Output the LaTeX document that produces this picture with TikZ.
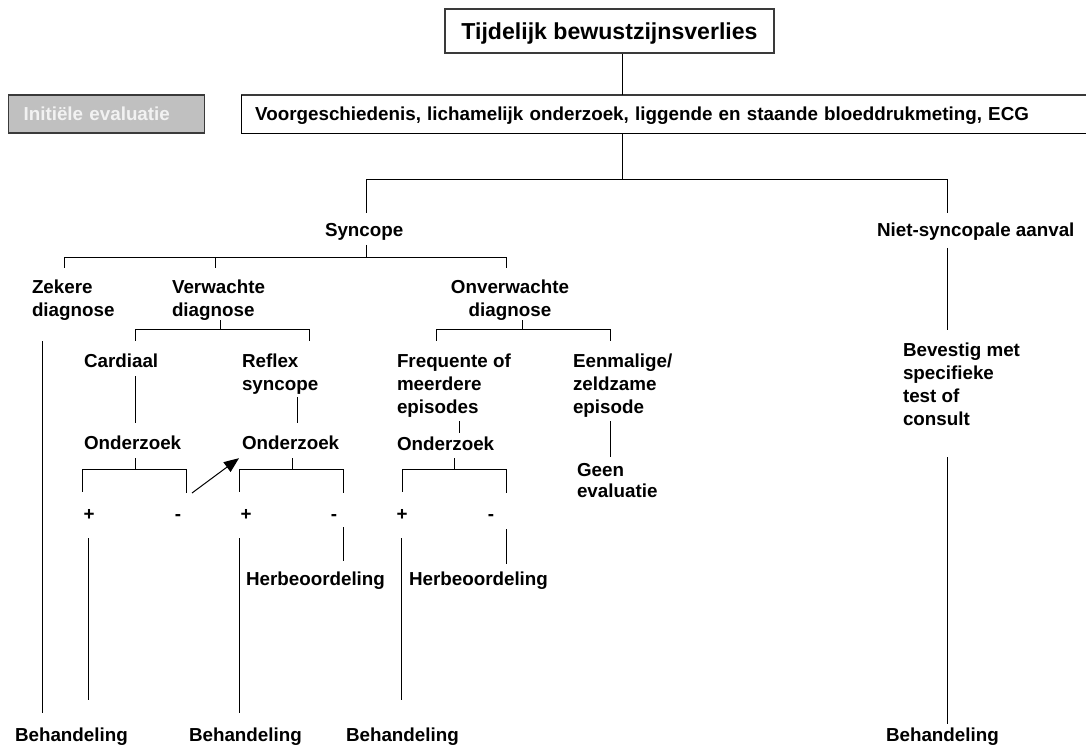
\documentclass[tikz,border=0pt]{standalone}
\usepackage{fontspec}
\setmainfont{Liberation Sans}
\usetikzlibrary{arrows.meta,calc}
\definecolor{boxgray}{HTML}{C0C0C0}
\definecolor{lighttext}{HTML}{F2F2F2}
\definecolor{edgegray}{HTML}{3A3A3A}
\begin{document}
\begin{tikzpicture}[x=1pt,y=-1pt,
  ln/.style={line width=1pt, black},
  lbl/.style={font=\bfseries\fontsize{18.8}{23}\selectfont, inner sep=0pt, outer sep=0pt, anchor=base west},
  lblm/.style={font=\bfseries\fontsize{18.8}{23}\selectfont, inner sep=0pt, outer sep=0pt, align=left, anchor=north west},
  titlebox/.style={draw=edgegray, line width=1.3pt, font=\bfseries\fontsize{23.1}{27}\selectfont,
    minimum width=329pt, minimum height=44pt, inner sep=0pt, text height=16.5pt, text depth=0pt},
  graybox/.style={fill=boxgray, draw=edgegray, line width=1.2pt, text=lighttext,
    font=\bfseries\fontsize{18.8}{23}\selectfont, minimum height=38pt, text width=166pt,
    inner xsep=15pt, inner ysep=0pt, align=left, text height=13.5pt, text depth=0pt, anchor=west},
  plainbox/.style={font=\bfseries\fontsize{18.8}{23}\selectfont, minimum height=38pt, text width=817pt,
    inner xsep=14pt, inner ysep=0pt, align=left, text height=13.5pt, text depth=0pt, anchor=west},
  toplinestyle/.style={line width=1.8pt, edgegray},
  arr/.style={ln, -{Triangle[length=15pt,width=12pt]}}
]
\useasboundingbox (0,0) rectangle (1086,744);

% ---------- nodes ----------
\node[titlebox] (title) at (609.5,31) {Tijdelijk bewustzijnsverlies};
\node[graybox] (init) at (8,114) {Initiële evaluatie};
\node[plainbox] (box2) at (241,114) {Voorgeschiedenis, lichamelijk onderzoek, liggende en staande bloeddrukmeting, ECG};

\node[lbl] (syncope) at (325,236) {Syncope};
\node[lbl] (niet) at (877,236) {Niet-syncopale aanval};

\node[lblm] (zekere) at (32,279.5) {Zekere\\diagnose};
\node[lblm] (verw) at (172,279.5) {Verwachte\\diagnose};
\node[lblm, align=center, anchor=north] (onverw) at (510,279.5) {Onverwachte\\diagnose};

\node[lbl] (cardiaal) at (84,367) {Cardiaal};
\node[lblm] (reflex) at (242,353.5) {Reflex\\syncope};
\node[lblm] (freq) at (397,353.5) {Frequente of\\meerdere\\episodes};
\node[lblm] (eenm) at (573,353.5) {Eenmalige/\\zeldzame\\episode};
\node[lblm] (bevestig) at (903,342.5) {Bevestig met\\specifieke\\test of\\consult};

\node[lbl] (ond1) at (84,449) {Onderzoek};
\node[lbl] (ond2) at (242,449) {Onderzoek};
\node[lbl] (ond3) at (397,450) {Onderzoek};
\node[lblm] (geen) at (577,463.5) {Geen\\[-2pt]evaluatie};

\node[lbl, anchor=base] (plus1) at (89,520) {+};
\node[lbl, anchor=base] (minus1) at (178,520) {-};
\node[lbl, anchor=base] (plus2) at (246,520) {+};
\node[lbl, anchor=base] (minus2) at (334,520) {-};
\node[lbl, anchor=base] (plus3) at (402,520) {+};
\node[lbl, anchor=base] (minus3) at (491,520) {-};

\node[lbl] (herb1) at (246,585) {Herbeoordeling};
\node[lbl] (herb2) at (409,585) {Herbeoordeling};

\node[lbl] (beh1) at (15,741) {Behandeling};
\node[lbl] (beh2) at (189,741) {Behandeling};
\node[lbl] (beh3) at (346,741) {Behandeling};
\node[lbl] (beh4) at (886,741) {Behandeling};

% ---------- box 2 border (open to the right edge) ----------
\draw[toplinestyle] (box2.north west) -- (box2.north east);
\draw[ln] (box2.north west) -- (box2.south west) -- (box2.south east);

% ---------- junction coordinates ----------
\coordinate (m) at (622,179);
\coordinate (mS) at (366,179);
\coordinate (mN) at (947,179);
\coordinate (s) at (366,257);
\coordinate (sZ) at (64,257);
\coordinate (sV) at (215,257);
\coordinate (sO) at (506,257);
\coordinate (v) at (220,329);
\coordinate (vC) at (135,329);
\coordinate (vR) at (309,329);
\coordinate (u) at (522,329);
\coordinate (uF) at (436,329);
\coordinate (uE) at (610,329);
\coordinate (xR) at (297,0);
\coordinate (xF) at (459,0);
\coordinate (o1) at (135,469);
\coordinate (o1L) at (82,469);
\coordinate (o1R) at (186,469);
\coordinate (o2) at (292,469);
\coordinate (o2L) at (239,469);
\coordinate (o2R) at (343,469);
\coordinate (o3) at (454,469);
\coordinate (o3L) at (402,469);
\coordinate (o3R) at (506,469);
\coordinate (xZ) at (42,0);
\coordinate (xP1) at (88,0);
\coordinate (xP3) at (401,0);
\coordinate (arrS) at (192,493);

% ---------- connectors ----------
\draw[ln] (title.south -| m) -- (box2.north -| m);
\draw[ln] (box2.south -| m) -- (m);
\draw[ln] (mS) -- (mN);
\draw[ln, shorten >=9.5pt] (mS) -- (syncope.north -| mS);
\draw[ln, shorten >=9.5pt] (mN) -- (niet.north -| mN);

% syncope branch
\draw[ln, shorten <=5pt] (syncope.south -| s) -- (s);
\draw[ln] (sZ) -- (sO);
\draw[ln, shorten >=11.5pt] (sZ) -- (zekere.north -| sZ);
\draw[ln, shorten >=11.5pt] (sV) -- (verw.north -| sV);
\draw[ln, shorten >=11.5pt] (sO) -- (onverw.north -| sO);

% verwachte branch
\draw[ln] (verw.south -| v) -- (v);
\draw[ln] (vC) -- (vR);
\draw[ln, shorten >=12.5pt] (vC) -- (cardiaal.north -| vC);
\draw[ln, shorten >=12.5pt] (vR) -- (reflex.north -| vR);

% onverwachte branch
\draw[ln] (onverw.south -| u) -- (u);
\draw[ln] (uF) -- (uE);
\draw[ln, shorten >=12.5pt] (uF) -- (freq.north -| uF);
\draw[ln, shorten >=12.5pt] (uE) -- (eenm.north -| uE);

% to Onderzoek / Geen evaluatie
\draw[ln, shorten <=9pt, shorten >=12.5pt] (cardiaal.south -| vC) -- (ond1.north -| vC);
\draw[ln, shorten <=3pt, shorten >=12.5pt] (reflex.south -| xR) -- (ond2.north -| xR);
\draw[ln, shorten <=4pt, shorten >=3.5pt] (freq.south -| xF) -- (ond3.north -| xF);
\draw[ln, shorten <=4pt, shorten >=6.5pt] (eenm.south -| uE) -- (geen.north -| uE);

% Onderzoek brackets
\draw[ln, shorten <=9pt] (ond1.south -| o1) -- (o1);
\draw[ln] (o1L) -- (o1R);
\draw[ln, shorten >=17pt] (o1L) -- (plus1.north -| o1L);
\draw[ln, shorten >=21.5pt] (o1R) -- (minus1.north -| o1R);

\draw[ln, shorten <=9pt] (ond2.south -| o2) -- (o2);
\draw[ln] (o2L) -- (o2R);
\draw[ln, shorten >=17pt] (o2L) -- (plus2.north -| o2L);
\draw[ln, shorten >=21.5pt] (o2R) -- (minus2.north -| o2R);

\draw[ln, shorten <=8pt] (ond3.south -| o3) -- (o3);
\draw[ln] (o3L) -- (o3R);
\draw[ln, shorten >=17pt] (o3L) -- (plus3.north -| o3L);
\draw[ln, shorten >=21.5pt] (o3R) -- (minus3.north -| o3R);

% arrow from negative cardiac result to reflex investigation
\draw[arr] (arrS) -- ($(ond2.south west)+(-3,9)$);

% results
\draw[ln, shorten <=21pt, shorten >=14.5pt] (zekere.south -| xZ) -- (beh1.north -| xZ);
\draw[ln, shorten <=18pt, shorten >=27.5pt] (plus1.south -| xP1) -- (beh1.north -| xP1);
\draw[ln, shorten <=18pt, shorten >=14.5pt] (plus2.south -| o2L) -- (beh2.north -| o2L);
\draw[ln, shorten <=18pt, shorten >=27.5pt] (plus3.south -| xP3) -- (beh3.north -| xP3);
\draw[ln, shorten <=7pt, shorten >=10.5pt] (minus2.south -| o2R) -- (herb1.north -| o2R);
\draw[ln, shorten <=9pt, shorten >=7.5pt] (minus3.south -| o3R) -- (herb2.north -| o3R);

% non-syncopal branch
\draw[ln, shorten <=8pt, shorten >=12.5pt] (niet.south -| mN) -- (bevestig.north -| mN);
\draw[ln, shorten <=32pt, shorten >=3.5pt] (bevestig.south -| mN) -- (beh4.north -| mN);
\end{tikzpicture}
\end{document}
